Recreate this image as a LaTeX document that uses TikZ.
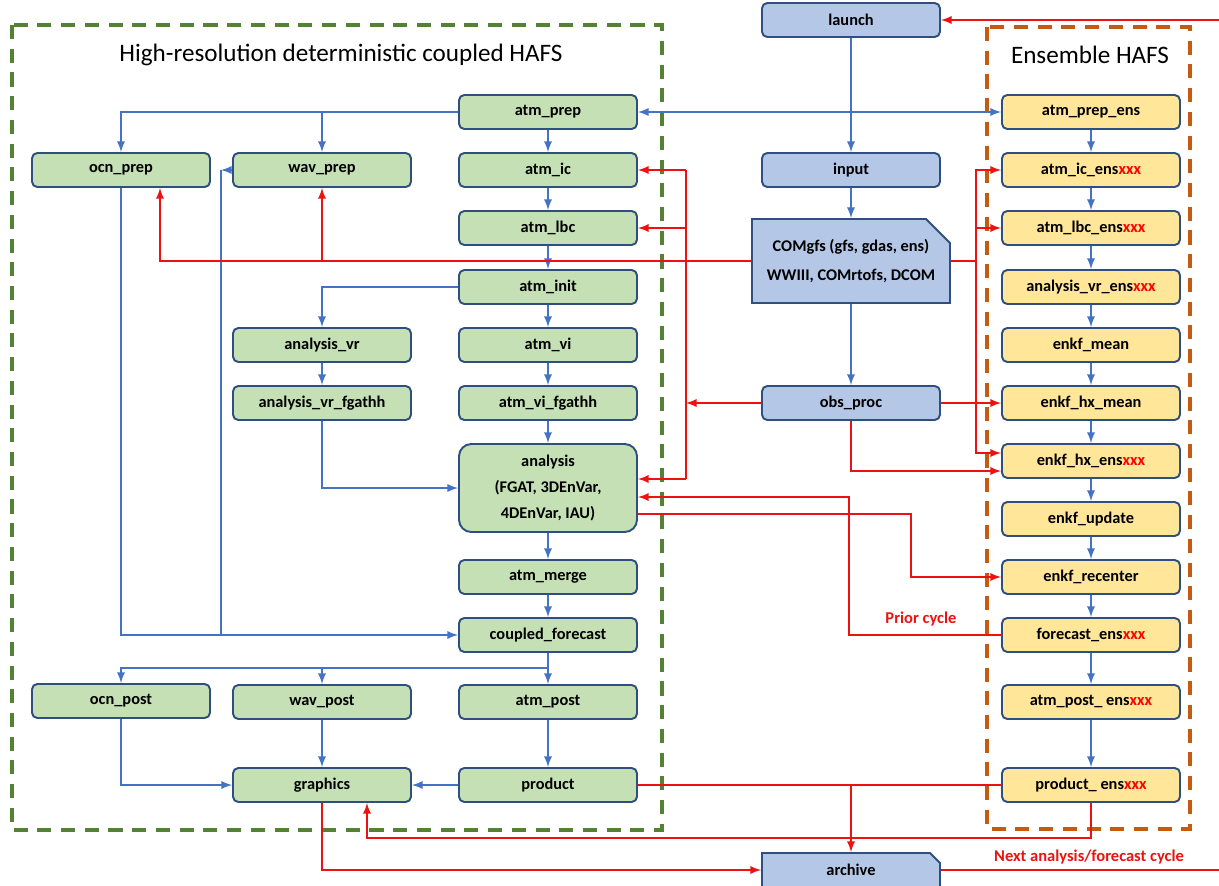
\documentclass[tikz,border=0pt]{standalone}
\usepackage{fontspec}
\setmainfont{Carlito}
\usetikzlibrary{shapes.misc}

\definecolor{boxline}{HTML}{2F4F80}
\definecolor{detfill}{HTML}{C5E0B4}
\definecolor{ensfill}{HTML}{FFE699}
\definecolor{sysfill}{HTML}{B4C7E7}
\definecolor{flowblue}{HTML}{4472C4}
\definecolor{flowred}{HTML}{EE1111}
\definecolor{detframe}{HTML}{548235}
\definecolor{ensframe}{HTML}{C55A11}

\tikzstyle{task} = [draw=boxline,line width=1.1pt,rounded corners=3pt,
	minimum width=3.56cm,minimum height=0.68cm,inner sep=1pt,
	font=\fontsize{9.3}{11}\selectfont\bfseries]
\tikzstyle{det} = [task,fill=detfill]
\tikzstyle{ens} = [task,fill=ensfill]
\tikzstyle{sys} = [task,fill=sysfill]
\tikzstyle{snipped} = [sys,rounded corners=0pt,chamfered rectangle,
	chamfered rectangle corners=north east]
\tikzstyle{blueflow} = [draw=flowblue,line width=1.1pt,->,>=latex]
\tikzstyle{blueline} = [draw=flowblue,line width=1.1pt]
\tikzstyle{redflow} = [draw=flowred,line width=1.1pt,->,>=latex]
\tikzstyle{redline} = [draw=flowred,line width=1.1pt]
\tikzstyle{frame} = [line width=2.2pt,dash pattern=on 8pt off 5.5pt]
\tikzstyle{title} = [font=\fontsize{14.3}{17}\selectfont]
\tikzstyle{redlabel} = [text=flowred,font=\fontsize{9.4}{11}\selectfont\bfseries]

\newcommand{\xxx}{\textcolor{red}{xxx}}

\begin{document}
\begin{tikzpicture}
	\useasboundingbox (0,0) rectangle (24.38,-17.72);

	% frames
	\draw[frame,detframe] (0.24,-0.50) rectangle (13.24,-16.60);
	\draw[frame,ensframe] (19.74,-0.54) rectangle (23.80,-16.58);
	\node[title] (dettitle) at (6.82,-1.10) {High-resolution deterministic coupled HAFS};
	\node[title] (enstitle) at (21.80,-1.10) {Ensemble HAFS};

	% system tasks
	\node[sys] (launch) at (17.02,-0.40) {launch};
	\node[sys] (input) at (17.02,-3.40) {input};
	\node[snipped,minimum width=3.96cm,minimum height=1.68cm,
		chamfered rectangle xsep=0.24cm,chamfered rectangle ysep=0.24cm,
		align=center] (com) at (17.02,-5.22)
		{COMgfs (gfs, gdas, ens)\\[5pt]WWIII, COMrtofs, DCOM};
	\node[sys] (obsproc) at (17.02,-8.06) {obs\_proc};
	\node[snipped,chamfered rectangle xsep=0.1cm,chamfered rectangle ysep=0.1cm]
		(archive) at (17.02,-17.40) {archive};

	% deterministic tasks
	\node[det] (atmprep) at (10.96,-2.24) {atm\_prep};
	\node[det] (ocnprep) at (2.42,-3.40) {ocn\_prep};
	\node[det] (wavprep) at (6.44,-3.40) {wav\_prep};
	\node[det] (atmic) at (10.96,-3.40) {atm\_ic};
	\node[det] (atmlbc) at (10.96,-4.56) {atm\_lbc};
	\node[det] (atminit) at (10.96,-5.74) {atm\_init};
	\node[det] (anavr) at (6.44,-6.90) {analysis\_vr};
	\node[det] (atmvi) at (10.96,-6.90) {atm\_vi};
	\node[det] (anavrfg) at (6.44,-8.06) {analysis\_vr\_fgathh};
	\node[det] (atmvifg) at (10.96,-8.06) {atm\_vi\_fgathh};
	\node[det,minimum height=1.76cm,rounded corners=7pt,align=center]
		(analysis) at (10.96,-9.76) {analysis\\[4pt](FGAT, 3DEnVar,\\[4pt]4DEnVar, IAU)};
	\node[det] (atmmerge) at (10.96,-11.54) {atm\_merge};
	\node[det] (cplfcst) at (10.96,-12.70) {coupled\_forecast};
	\node[det] (ocnpost) at (2.42,-14.02) {ocn\_post};
	\node[det] (wavpost) at (6.44,-14.04) {wav\_post};
	\node[det] (atmpost) at (10.96,-14.04) {atm\_post};
	\node[det] (graphics) at (6.44,-15.70) {graphics};
	\node[det] (product) at (10.96,-15.70) {product};

	% ensemble tasks
	\node[ens] (atmprepens) at (21.82,-2.24) {atm\_prep\_ens};
	\node[ens] (atmicens) at (21.82,-3.40) {atm\_ic\_ens\xxx};
	\node[ens] (atmlbcens) at (21.82,-4.56) {atm\_lbc\_ens\xxx};
	\node[ens] (anavrens) at (21.82,-5.74) {analysis\_vr\_ens\xxx};
	\node[ens] (enkfmean) at (21.82,-6.90) {enkf\_mean};
	\node[ens] (hxmean) at (21.82,-8.06) {enkf\_hx\_mean};
	\node[ens] (hxens) at (21.82,-9.22) {enkf\_hx\_ens\xxx};
	\node[ens] (enkfupdate) at (21.82,-10.38) {enkf\_update};
	\node[ens] (recenter) at (21.82,-11.54) {enkf\_recenter};
	\node[ens] (fcstens) at (21.82,-12.70) {forecast\_ens\xxx};
	\node[ens] (atmpostens) at (21.82,-14.04) {atm\_post\_ ens\xxx};
	\node[ens] (productens) at (21.82,-15.70) {product\_ ens\xxx};

	% helper points
	\coordinate (cyclein) at (24.38,-0.40);
	\coordinate (cycleout) at (24.38,-17.40);
	\coordinate (detbus) at (13.72,-5.22);
	\coordinate (ensbus) at (19.52,-5.22);
	\coordinate (wavcorner) at (4.42,-3.40);
	\coordinate (wavjoin) at (4.42,-12.70);
	\coordinate (postbus) at (10.96,-13.36);
	\coordinate (recbend) at (18.22,-10.28);
	\coordinate (priorbend) at (16.98,-9.94);
	\coordinate (ensback) at (21.82,-16.76);

	% blue flow, system
	\draw[blueflow] (launch) -- (input);
	\draw[blueflow] (input) -- (com);
	\draw[blueflow] (com) -- (obsproc);
	\draw[blueflow,<->] (atmprep) -- (atmprepens);

	% blue flow, deterministic
	\draw[blueflow] (atmprep.west) -| (ocnprep.north);
	\draw[blueflow] (wavprep.north |- atmprep.west) -- (wavprep.north);
	\draw[blueflow] (atmprep) -- (atmic);
	\draw[blueflow] (atmic) -- (atmlbc);
	\draw[blueflow] (atmlbc) -- (atminit);
	\draw[blueflow] (atminit) -- (atmvi);
	\draw[blueflow] (atmvi) -- (atmvifg);
	\draw[blueflow] (atmvifg) -- (analysis);
	\draw[blueflow] (analysis) -- (atmmerge);
	\draw[blueflow] (atmmerge) -- (cplfcst);
	\draw[blueflow] (atminit.west) -| (anavr.north);
	\draw[blueflow] (anavr) -- (anavrfg);
	\draw[blueflow] (anavrfg.south) |- (analysis.west);
	\draw[blueflow] (ocnprep.south) |- (cplfcst.west);
	\draw[blueflow] (wavprep.west) -- (wavcorner);
	\draw[blueline] (wavcorner) -- (wavjoin);
	\draw[blueline] (cplfcst.south) -- (postbus);
	\draw[blueflow] (postbus) -| (ocnpost.north);
	\draw[blueflow] (wavpost.north |- postbus) -- (wavpost.north);
	\draw[blueflow] (postbus) -- (atmpost.north);
	\draw[blueflow] (atmpost) -- (product);
	\draw[blueflow] (product) -- (graphics);
	\draw[blueflow] (wavpost) -- (graphics);
	\draw[blueflow] (ocnpost.south) |- (graphics.west);

	% blue flow, ensemble
	\draw[blueflow] (atmprepens) -- (atmicens);
	\draw[blueflow] (atmicens) -- (atmlbcens);
	\draw[blueflow] (atmlbcens) -- (anavrens);
	\draw[blueflow] (anavrens) -- (enkfmean);
	\draw[blueflow] (enkfmean) -- (hxmean);
	\draw[blueflow] (hxmean) -- (hxens);
	\draw[blueflow] (hxens) -- (enkfupdate);
	\draw[blueflow] (enkfupdate) -- (recenter);
	\draw[blueflow] (recenter) -- (fcstens);
	\draw[blueflow] (fcstens) -- (atmpostens);
	\draw[blueflow] (atmpostens) -- (productens);

	% red flow, input data
	\draw[redflow] (cyclein) -- (launch.east);
	\draw[redflow] (com.west) -| ([xshift=0.78cm]ocnprep.south);
	\draw[redflow] (wavprep.south |- com.west) -- (wavprep.south);
	\draw[redline] (detbus |- atmic.east) -- ([yshift=0.18cm]detbus |- analysis.east);
	\draw[redflow] (detbus |- atmic.east) -- (atmic.east);
	\draw[redflow] (detbus |- atmlbc.east) -- (atmlbc.east);
	\draw[redflow] ([yshift=0.18cm]detbus |- analysis.east) -- ([yshift=0.18cm]analysis.east);
	\draw[redflow] (obsproc.west) -- (detbus |- obsproc.west);
	\draw[redline] (com.east) -- (ensbus);
	\draw[redflow] (ensbus) |- (atmicens.west);
	\draw[redflow] (ensbus) |- (atmlbcens.west);
	\draw[redflow] (ensbus) |- ([yshift=0.16cm]hxens.west);
	\draw[redflow] (obsproc.east) -- (hxmean.west);
	\draw[redflow] (obsproc.south) |- ([yshift=-0.20cm]hxens.west);

	% red flow, cycling
	\draw[redflow] ([yshift=-0.52cm]analysis.east) -- (recbend) |- (recenter.west);
	\draw[redflow] (fcstens.west) -| (priorbend) -- ([yshift=-0.18cm]analysis.east);
	\node[redlabel] (priorlabel) at (18.42,-12.38) {Prior cycle};
	\draw[redline] (product.east) -- (productens.west);
	\draw[redflow] (archive.north |- product.east) -- (archive.north);
	\draw[redflow] (productens.south) -- (ensback) -| ([xshift=0.9cm]graphics.south);
	\draw[redflow] (graphics.south) |- (archive.west);
	\draw[redline] (archive.east) -- (cycleout);
	\node[redlabel] (nextlabel) at (21.78,-17.14) {Next analysis/forecast cycle};
\end{tikzpicture}
\end{document}
